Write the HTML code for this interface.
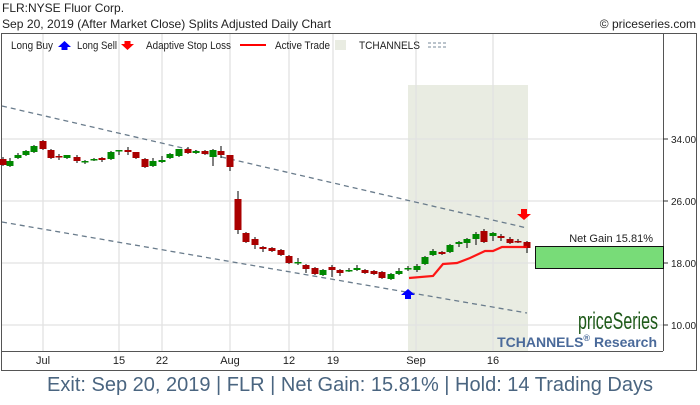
<!DOCTYPE html>
<html><head><style>
body{margin:0;width:700px;height:400px;background:#fff;overflow:hidden;font-family:"Liberation Sans",sans-serif}
</style></head><body>
<svg width="700" height="400" xmlns="http://www.w3.org/2000/svg" font-family="Liberation Sans, sans-serif">
<text x="2" y="12" font-size="12" fill="#222">FLR:NYSE Fluor Corp.</text>
<text x="2" y="28" font-size="12" fill="#222" textLength="329" lengthAdjust="spacingAndGlyphs">Sep 20, 2019 (After Market Close)  Splits Adjusted Daily Chart</text>
<text x="696" y="28" font-size="12" fill="#222" text-anchor="end">© priceseries.com</text>
<rect x="1.5" y="33.5" width="695" height="337" fill="none" stroke="#555"/>
<rect x="408" y="85" width="120" height="266" fill="#e9ece2"/>
<g stroke="#e2e2e2" stroke-width="1.3">
<line x1="43" y1="34" x2="43" y2="351"/><line x1="119" y1="34" x2="119" y2="351"/><line x1="162" y1="34" x2="162" y2="351"/><line x1="230" y1="34" x2="230" y2="351"/><line x1="289" y1="34" x2="289" y2="351"/><line x1="333" y1="34" x2="333" y2="351"/><line x1="416" y1="34" x2="416" y2="351"/><line x1="493" y1="34" x2="493" y2="351"/>
<line x1="2" y1="139" x2="663" y2="139"/><line x1="2" y1="201" x2="663" y2="201"/><line x1="2" y1="263" x2="663" y2="263"/><line x1="2" y1="325" x2="663" y2="325"/>
</g>
<line x1="663.5" y1="34" x2="663.5" y2="351" stroke="#555"/>
<line x1="2" y1="351.5" x2="663" y2="351.5" stroke="#555"/>
<g font-size="10" fill="#222">
<line x1="663" y1="139" x2="668" y2="139" stroke="#333"/><text x="671" y="143">34.00</text>
<line x1="663" y1="201" x2="668" y2="201" stroke="#333"/><text x="671" y="205">26.00</text>
<line x1="663" y1="263" x2="668" y2="263" stroke="#333"/><text x="671" y="267">18.00</text>
<line x1="663" y1="325" x2="668" y2="325" stroke="#333"/><text x="671" y="329">10.00</text>
</g>
<g font-size="11" fill="#222" text-anchor="middle">
<text x="43" y="364">Jul</text><text x="119" y="364">15</text><text x="162" y="364">22</text><text x="230" y="364">Aug</text><text x="289" y="364">12</text><text x="333" y="364">19</text><text x="416" y="364">Sep</text><text x="493" y="364">16</text>
</g>
<g font-size="11" fill="#222">
<text x="11" y="49" textLength="42" lengthAdjust="spacingAndGlyphs">Long Buy</text><path d="M58 47 l6.5 -6 l6.5 6 h-3.5 v3 h-6 v-3z" fill="#00f"/>
<text x="77" y="49" textLength="40" lengthAdjust="spacingAndGlyphs">Long Sell</text><path d="M121 44 l6.5 6 l6.5 -6 h-3.5 v-3 h-6 v3z" fill="#f00"/>
<text x="146" y="49" textLength="85" lengthAdjust="spacingAndGlyphs">Adaptive Stop Loss</text><line x1="240" y1="45" x2="266" y2="45" stroke="#f00" stroke-width="2"/>
<text x="275" y="49" textLength="55" lengthAdjust="spacingAndGlyphs">Active Trade</text><rect x="335" y="40" width="11" height="10" fill="#e9ece2"/>
<text x="359" y="49" textLength="61" lengthAdjust="spacingAndGlyphs">TCHANNELS</text><line x1="428" y1="43" x2="448" y2="43" stroke="#789" stroke-dasharray="3,2"/><line x1="428" y1="47" x2="448" y2="47" stroke="#789" stroke-dasharray="3,2"/>
</g>
<g stroke="#6a7c8c" stroke-width="1.3" stroke-dasharray="5,4">
<line x1="2" y1="106" x2="527" y2="228"/><line x1="2" y1="222" x2="527" y2="313"/>
</g>
<g id="c"></g>
<polyline points="409,278 433,276 443,264 457,263 470,258 485,251 493,251 502,247 527,247" fill="none" stroke="#f00" stroke-width="2.2" opacity="0.9"/>
<path d="M401 295 l7 -6 l7 6 h-4 v4 h-6 v-4z" fill="#00f"/>
<path d="M517 214 l7 6 l7 -6 h-4 v-5 h-6 v5z" fill="#f00"/>
<rect x="535.5" y="246.5" width="128" height="22" fill="#78dc78" stroke="#111"/>
<text x="653" y="242" font-size="11" fill="#222" text-anchor="end">Net Gain 15.81%</text>
<text x="578" y="329" font-size="24" fill="#1f5a1a" textLength="80" lengthAdjust="spacingAndGlyphs">priceSeries</text>
<text x="657" y="347" font-size="14" font-weight="bold" fill="#4a6a9a" text-anchor="end">TCHANNELS<tspan font-size="9" dy="-6">®</tspan><tspan dy="6"> Research</tspan></text>
<text x="350" y="391" font-size="20" fill="#4a6580" text-anchor="middle">Exit: Sep 20, 2019 | FLR | Net Gain: 15.81% | Hold: 14 Trading Days</text>
</svg>
<script>
var d=[[3,'r',159,165,157,166],[10,'g',161,166,158,167],[18,'g',155,158,153,159],[26,'g',151,155,150,156],[34,'g',146,152,145,153],[43,'r',141,149,140,150],[51,'r',150,158,149,159],[59,'r',156,157,154,160],[67,'g',155,158,155,159],[77,'r',157,161,155,163],[85,'g',161,162,160,164],[94,'g',159,160,158,161],[102,'r',158,160,157,162],[111,'g',152,159,151,160],[119,'g',150,151,150,155],[128,'r',150,152,147,155],[136,'r',152,158,152,159],[145,'r',159,167,158,168],[153,'g',161,166,158,167],[162,'g',160,162,156,163],[170,'g',154,158,153,159],[179,'g',149,156,149,157],[188,'r',149,153,147,154],[196,'g',151,153,150,154],[205,'r',151,154,150,155],[213,'g',150,157,149,166],[221,'r',151,155,146,158],[230,'r',155,167,155,171],[238,'r',199,230,191,234],[246,'r',233,242,232,243],[255,'r',239,245,237,249],[263,'r',247,249,246,252],[272,'r',248,251,247,252],[281,'r',250,255,249,256],[289,'r',256,263,255,264],[298,'g',262,263,258,265],[306,'r',265,269,264,273],[315,'r',268,274,267,275],[323,'g',270,275,269,276],[332,'r',267,270,265,277],[340,'r',270,273,269,276],[349,'g',270,271,268,272],[357,'g',268,270,265,271],[365,'r',270,273,269,274],[374,'r',271,274,270,275],[382,'r',272,278,271,279],[391,'g',274,279,273,280],[399,'g',271,274,268,275],[408,'g',268,269,266,271],[417,'g',266,270,264,272],[425,'g',257,264,256,265],[433,'g',251,255,249,256],[442,'r',252,254,251,255],[450,'g',245,252,244,253],[459,'g',242,244,241,247],[467,'g',239,243,238,248],[476,'g',234,239,232,245],[484,'r',231,242,229,243],[493,'g',233,236,232,241],[501,'r',236,238,234,241],[510,'r',239,243,237,244],[518,'r',241,242,239,243],[527,'r',242,248,241,253]];
var g=document.getElementById('c'),s='';
d.forEach(function(c){var col=c[1]=='r'?'#a00':'#080';
s+='<line x1="'+c[0]+'" y1="'+c[4]+'" x2="'+c[0]+'" y2="'+c[5]+'" stroke="#000"/>';
var h=Math.max(c[3]-c[2],1.5);
s+='<rect x="'+(c[0]-3.5)+'" y="'+c[2]+'" width="7" height="'+h+'" fill="'+col+'"/>';});
g.innerHTML=s;
</script>
</body></html>
